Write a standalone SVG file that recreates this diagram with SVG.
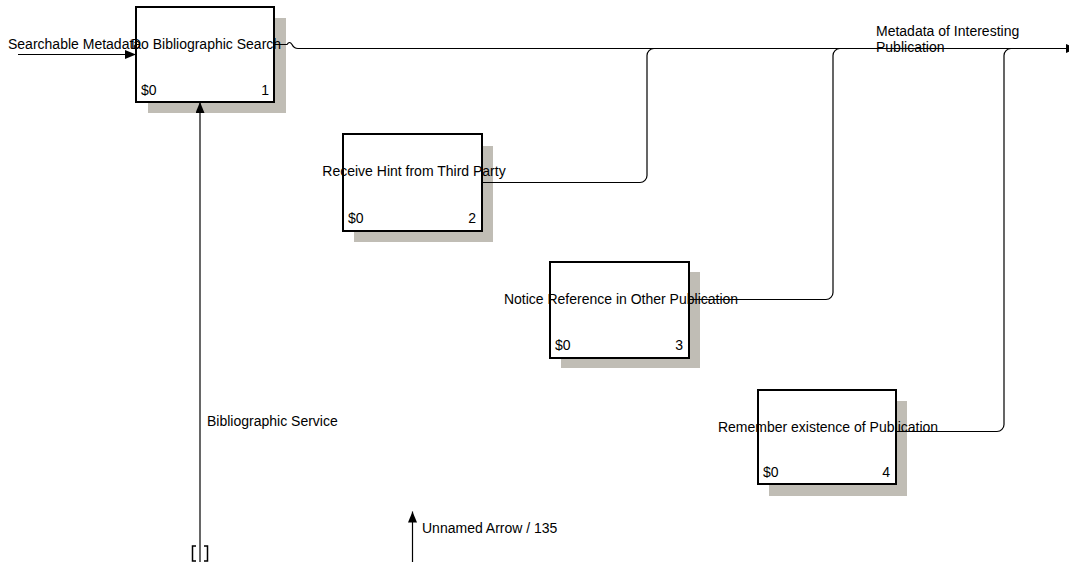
<svg xmlns="http://www.w3.org/2000/svg" width="1069" height="562" viewBox="0 0 1069 562">
<style>
  .shadow { fill: #c0bdb5; stroke: none; }
  .box { fill: #ffffff; stroke: #000000; stroke-width: 2; }
  .lbl { font-family: "Liberation Sans", Arial, sans-serif; font-size: 14px; fill: #000000; }
  .mid { text-anchor: middle; }
  .end { text-anchor: end; }
  .conn { fill: none; stroke: #000000; stroke-width: 1.2; }
  .tun { fill: none; stroke: #000000; stroke-width: 1.5; }
</style>
<defs>
  <marker id="arrow" markerUnits="userSpaceOnUse" markerWidth="12" markerHeight="10" refX="11" refY="4.5" orient="auto">
    <path d="M0,0 L11,4.5 L0,9 z" fill="#000000"/>
  </marker>
</defs>

<rect width="1069" height="562" fill="#ffffff"/>

<g id="node1">
  <rect class="shadow" x="148" y="18" width="138" height="95"/>
  <rect class="box" x="136" y="7" width="138" height="95"/>
  <text class="lbl mid" x="206" y="49">Do Bibliographic Search</text>
  <text class="lbl" x="141" y="95">$0</text>
  <text class="lbl end" x="269" y="95">1</text>
</g>

<g id="node2">
  <rect class="shadow" x="354" y="146" width="139" height="96"/>
  <rect class="box" x="343" y="134" width="139" height="97"/>
  <text class="lbl mid" x="414" y="176">Receive Hint from Third Party</text>
  <text class="lbl" x="348" y="223">$0</text>
  <text class="lbl end" x="476" y="223">2</text>
</g>

<g id="node3">
  <rect class="shadow" x="561" y="272" width="139" height="96"/>
  <rect class="box" x="550" y="262" width="139" height="96"/>
  <text class="lbl mid" x="621" y="304">Notice Reference in Other Publication</text>
  <text class="lbl" x="555" y="350">$0</text>
  <text class="lbl end" x="683" y="350">3</text>
</g>

<g id="node4">
  <rect class="shadow" x="769" y="401" width="138" height="95"/>
  <rect class="box" x="758" y="390" width="138" height="94"/>
  <text class="lbl mid" x="828" y="432">Remember existence of Publication</text>
  <text class="lbl" x="763" y="477">$0</text>
  <text class="lbl end" x="890" y="477">4</text>
</g>

<g id="connectors">
  <!-- input: Searchable Metadata -->
  <path class="conn" d="M18,54.5 H136" marker-end="url(#arrow)"/>
  <text class="lbl" x="8" y="49">Searchable Metadata</text>

  <!-- output of node 1 with jump, main output line -->
  <path class="conn" d="M274,44.5 H287 Q289.5,40.5 292,44.5 Q294,48.5 298,48.5 H1077" marker-end="url(#arrow)"/>
  <text class="lbl" x="876" y="36">Metadata of Interesting</text>
  <text class="lbl" x="876" y="52">Publication</text>

  <!-- output of node 2 -->
  <path class="conn" d="M482,182.5 H640 A7,7 0 0 0 647,175.5 V55.5 A7,7 0 0 1 654,48.5"/>
  <!-- output of node 3 -->
  <path class="conn" d="M689,299.5 H826 A7,7 0 0 0 833,292.5 V55.5 A7,7 0 0 1 840,48.5"/>
  <!-- output of node 4 -->
  <path class="conn" d="M896,431.5 H997 A7,7 0 0 0 1004,424.5 V55.5 A7,7 0 0 1 1011,48.5"/>

  <!-- control: Bibliographic Service -->
  <path class="conn" d="M200,562 V102" marker-end="url(#arrow)"/>
  <text class="lbl" x="207" y="426">Bibliographic Service</text>
  <path class="tun" d="M196,546 H192.5 V561 H196"/>
  <path class="tun" d="M204,546 H207.5 V561 H204"/>

  <!-- unnamed arrow -->
  <path class="conn" d="M412.5,562 V511.5" marker-end="url(#arrow)"/>
  <text class="lbl" x="422" y="533">Unnamed Arrow / 135</text>
</g>
</svg>
